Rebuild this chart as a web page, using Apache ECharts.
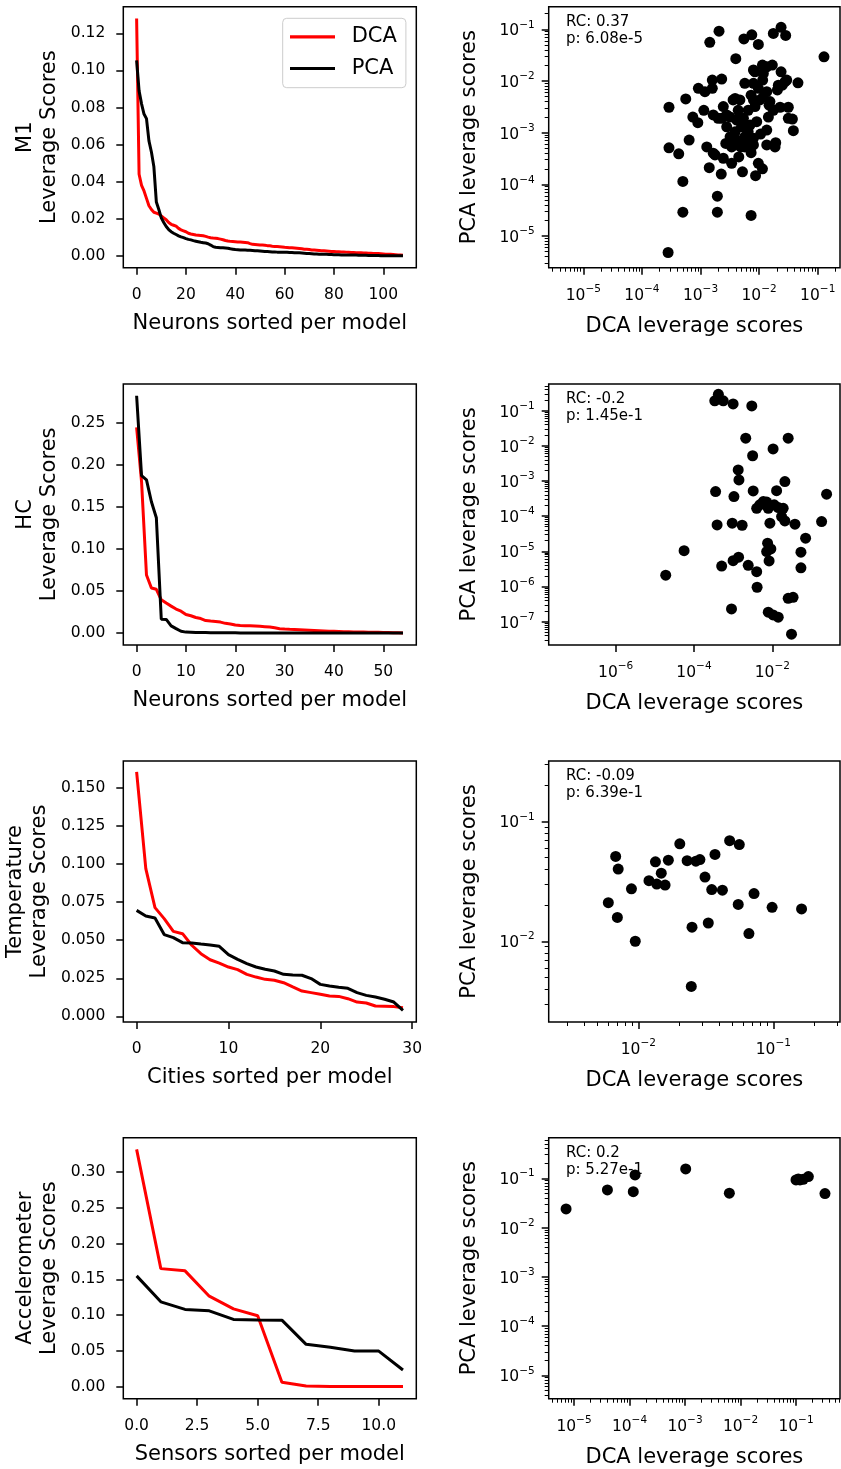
<!DOCTYPE html>
<html><head><meta charset="utf-8">
<script src="https://cdn.jsdelivr.net/npm/echarts@6/dist/echarts.min.js"></script>
<style>html,body{margin:0;padding:0;background:#fff}#c{width:841px;height:1469px}</style>
</head><body><div id="c"></div>
<script>
// ---------------- DATA ----------------
const m1Dca = [0.128,0.044,0.038,0.035,0.031,0.027,0.025,0.0235,0.023,0.0225,
 0.0215,0.0205,0.0195,0.018,0.017,0.0165,0.016,0.0148,0.014,0.0135,
 0.013,0.0122,0.0118,0.0115,0.0112,0.0111,0.011,0.0108,0.0105,0.0101,
 0.0098,0.0096,0.0095,0.0093,0.009,0.0087,0.0083,0.008,0.0078,0.0077,
 0.0076,0.0075,0.0074,0.0073,0.0072,0.0071,0.0066,0.0062,0.0061,0.006,
 0.0059,0.0058,0.0057,0.0055,0.0054,0.0052,0.0051,0.005,0.0049,0.0048,
 0.0046,0.0045,0.0044,0.0043,0.0042,0.0041,0.004,0.0038,0.0036,0.0035,
 0.0034,0.0032,0.0031,0.003,0.0029,0.0028,0.0027,0.0026,0.0025,0.0024,
 0.0023,0.0022,0.0022,0.0021,0.0021,0.002,0.0019,0.0018,0.0018,0.0017,
 0.0016,0.0016,0.0015,0.0015,0.0014,0.0014,0.0013,0.0012,0.0012,0.0011,
 0.001,0.0009,0.0008,0.0008,0.0007,0.0006,0.0005,0.0004,0.0003];
const m1Pca = [0.1055,0.089,0.082,0.0765,0.074,0.062,0.056,0.048,0.029,0.025,
 0.0205,0.018,0.0158,0.0142,0.013,0.0122,0.0115,0.0108,0.0102,0.0098,
 0.0093,0.0089,0.0086,0.0082,0.0079,0.0076,0.0073,0.0071,0.0069,0.0065,
 0.0058,0.005,0.0046,0.0045,0.0044,0.0043,0.0042,0.0041,0.0038,0.0036,
 0.0034,0.0033,0.0032,0.0031,0.0031,0.003,0.003,0.0029,0.0028,0.0027,
 0.0026,0.0025,0.0024,0.0023,0.0022,0.0021,0.0021,0.002,0.002,0.0019,
 0.0019,0.0019,0.0018,0.0018,0.0017,0.0017,0.0016,0.0015,0.0014,0.0013,
 0.0012,0.0011,0.001,0.001,0.0009,0.0009,0.0008,0.0008,0.0007,0.0007,
 0.0006,0.0006,0.0006,0.0005,0.0005,0.0005,0.0004,0.0004,0.0004,0.0004,
 0.0003,0.0003,0.0003,0.0003,0.0002,0.0002,0.0002,0.0002,0.0002,0.0001,
 0.0001,0.0001,0.0001,0.0001,0.00005,0.00005,0.00003,0.00002,0.00001];
const m1ScatterDca = [2.07e-3,1.44e-3,5.5e-3,7.5e-3,9.7e-3,1.75e-2,2.37e-2,2.84e-2,1.28e-1,4.0e-3,
 9.2e-4,1.59e-3,2.3e-3,1.59e-3,5.6e-4,2.9e-4,1.14e-3,7.4e-4,9.0e-4,2.9e-4,
 4.25e-4,6.4e-4,1.28e-3,5.0e-4,5.0e-4,2.8e-4,1.94e-3,1.94e-3,7.3e-3,1.41e-3,
 2.26e-3,1.77e-3,2.45e-3,5.2e-3,8.7e-3,9.7e-3,1.14e-2,4.5e-3,7.3e-3,1.06e-2,
 1.35e-2,1.92e-2,3.15e-2,3.7e-2,3.84e-2,4.6e-2,2.28e-2,3.15e-2,1.44e-2,2.37e-2,
 1.68e-2,1.14e-2,8.0e-3,1.18e-2,2.05e-2,2.77e-2,2.13e-2,5.7e-3,9.7e-3,7.3e-3,
 1.18e-2,1.48e-2,3.6e-3,4.7e-3,2.45e-3,1.65e-3,2.3e-3,3.2e-3,4.4e-3,6.5e-3,
 8.5e-3,2.8e-3,3.9e-3,4.15e-3,5.7e-3,7.0e-3,5.0e-3,3.2e-3,3.4e-3,2.7e-3,
 8.0e-3,4.85e-3,9.1e-3,1.35e-2,8.0e-3,1.03e-2,5.4e-3,1.53e-2,2.49e-2,2.96e-2,
 1.15e-2,6.5e-3,4.15e-3,2.0e-3,8.0e-3,5.7e-3,1.75e-2,3.4e-3,4.6e-3,1.65e-3,
 3.9e-3,1.35e-2,8.5e-3,1.35e-2,2.8e-3,8.0e-3,1.87e-2,1.19e-3,5.7e-3];
const m1ScatterPca = [9.2e-2,5.6e-2,6.5e-2,7.8e-2,5.1e-2,8.3e-2,1.09e-1,7.6e-2,2.94e-2,2.7e-2,
 7.2e-3,1.04e-2,1.09e-2,7.2e-3,4.5e-3,3.1e-3,2.7e-3,2.0e-3,1.56e-3,5.1e-4,
 3.9e-4,7.2e-4,5.3e-4,1.14e-4,2.9e-5,4.8e-6,5.9e-5,2.9e-5,2.5e-5,2.1e-4,
 1.58e-4,3.7e-4,3.2e-4,1.75e-4,1.47e-4,2.55e-4,2.0e-4,3.4e-4,4.1e-4,9.4e-4,
 5.8e-4,6.4e-4,1.89e-3,1.83e-3,1.09e-3,9.2e-3,3.1e-3,3.1e-3,2.0e-3,1.5e-2,
 2.03e-2,2.03e-2,1.63e-2,1.4e-2,6.7e-3,9.7e-3,8.3e-3,9.0e-3,7.2e-3,5.3e-3,
 4.9e-3,3.4e-3,4.3e-3,4.3e-3,3.2e-3,2.2e-3,1.89e-3,2.0e-3,2.7e-3,2.7e-3,
 3.2e-3,1.3e-3,1.04e-3,7.2e-4,8.3e-4,1.4e-3,1.3e-3,8.3e-4,5.3e-4,6.2e-4,
 7.8e-4,5.3e-4,1.63e-3,1.12e-3,4.3e-3,4.3e-3,1.89e-3,4.0e-3,8.3e-3,1.04e-2,
 1.04e-2,1.04e-3,1.75e-3,1.89e-3,5.8e-4,5.3e-4,2.7e-3,2.55e-4,5.8e-4,4.0e-4,
 4.6e-3,6.2e-3,1.5e-2,1.88e-2,2.2e-3,9.0e-3,5.3e-4,6.2e-3,6.2e-4];

const hcDca = [0.2445,0.18,0.069,0.0535,0.052,0.0395,0.0356,0.032,0.0285,0.026,
 0.022,0.0205,0.0185,0.0172,0.0148,0.0142,0.0138,0.013,0.0115,0.0108,
 0.0095,0.009,0.0088,0.0086,0.0083,0.008,0.0076,0.0072,0.0062,0.0052,
 0.0047,0.0044,0.0042,0.004,0.0037,0.0034,0.0031,0.0028,0.0025,0.0022,
 0.002,0.0018,0.0016,0.0015,0.0013,0.0012,0.0011,0.001,0.0009,0.0008,
 0.0006,0.0005,0.0003,0.0002,0.0001];
const hcPca = [0.282,0.187,0.182,0.156,0.137,0.0165,0.0162,0.0085,0.0052,0.0021,
 0.0011,0.00096,0.00053,0.00052,0.0005,0.00042,0.00036,0.00026,0.00025,0.00021,
 0.00021,0.000175,0.000167,0.000167,0.000167,0.000097,0.000073,0.00007,0.000063,0.000063,
 0.000059,0.000056,0.000055,0.0000235,0.000017,0.0000117,0.0000104,0.0000098,0.0000094,0.0000068,
 0.0000054,0.0000053,0.000004,0.0000038,0.0000034,0.0000026,0.0000021,0.00000095,0.00000049,0.00000046,
 0.00000023,0.00000019,0.00000016,0.00000013,0.00000004];
const hcScatterDca = [4.2e-4,3.4e-4,5.6e-4,1.0e-3,3.0e-3,2.1e-3,2.55e-2,1.05e-2,3.15e-3,1.35e-3,
 1.41e-3,2.1e-2,3.57e-4,1.05e-3,3.26e-3,1.29e-2,2.44e-1,7.2e-3,4.8e-3,4.0e-3,
 7.9e-3,1.42e-2,1.9e-2,1.73e-2,2.1e-2,3.9e-4,9.5e-4,1.7e-3,8.7e-3,3.8e-2,
 1.82e-1,7.1e-2,7.6e-3,7.2e-3,9.2e-3,5.6e-5,5.4e-2,1.0e-3,1.38e-3,8.3e-3,
 5.1e-4,2.43e-3,4.0e-3,5.4e-2,1.9e-5,4.1e-3,2.55e-2,3.4e-2,9.1e-4,7.9e-3,
 1.05e-2,1.42e-2,3.1e-2,5.9e-3,1.12e-2];
const hcScatterPca = [2.9e-1,1.9e-1,1.9e-1,1.55e-1,1.36e-1,1.64e-2,1.64e-2,8.1e-3,5.2e-3,2.06e-3,
 1.07e-3,9.6e-4,5.0e-4,3.6e-4,5.2e-4,5.3e-4,4.2e-4,2.5e-4,2.1e-4,1.67e-4,
 1.67e-4,1.75e-4,1.67e-4,9.7e-5,7.3e-5,5.6e-5,6.3e-5,5.5e-5,6.3e-5,5.9e-5,
 7.0e-5,2.35e-5,1.7e-5,9.8e-6,1.17e-5,1.04e-5,9.4e-6,5.4e-6,6.8e-6,5.3e-6,
 3.8e-6,4.0e-6,2.64e-6,3.4e-6,2.1e-6,9.5e-7,4.6e-7,4.9e-7,2.3e-7,1.85e-7,
 1.55e-7,1.34e-7,4.4e-8,2.6e-4,2.1e-4];

const tempDca = [0.1605,0.097,0.0714,0.0642,0.0558,0.0543,0.0467,0.0412,0.0372,0.035,
 0.0324,0.0307,0.0276,0.0258,0.0243,0.0237,0.0221,0.0193,0.0166,0.0156,
 0.0145,0.0134,0.0131,0.0116,0.0094,0.0088,0.0068,0.0066,0.0064,0.0057];
const tempPca = [0.0696,0.0659,0.0646,0.0537,0.0517,0.0484,0.0482,0.0475,0.0469,0.046,
 0.0405,0.0374,0.0346,0.0324,0.0309,0.0298,0.0276,0.0272,0.027,0.0248,
 0.021,0.0199,0.0191,0.0184,0.0156,0.0138,0.0127,0.0112,0.0094,0.004];
const tempScatterDca = [6.8e-3,7.1e-3,6.0e-3,7.0e-3,8.9e-3,9.5e-3,1.34e-2,1.67e-2,1.2e-2,1.37e-2,
 1.48e-2,1.58e-2,2.03e-2,2.3e-2,2.67e-2,2.86e-2,3.12e-2,3.5e-2,3.7e-2,4.2e-2,
 2.5e-2,3.3e-2,2.47e-2,4.75e-2,5.6e-2,5.5e-2,7.2e-2,6.6e-2,9.8e-2,1.62e-1];
const tempScatterPca = [5.1e-2,4.0e-2,2.1e-2,1.58e-2,2.74e-2,1.0e-2,4.6e-2,4.75e-2,3.2e-2,3.0e-2,
 3.7e-2,2.94e-2,6.5e-2,4.7e-2,4.66e-2,4.8e-2,3.43e-2,2.7e-2,5.3e-2,2.67e-2,
 1.31e-2,1.42e-2,4.2e-3,6.9e-2,6.4e-2,2.03e-2,2.5e-2,1.16e-2,1.92e-2,1.86e-2];

const accDca = [0.3317,0.165,0.1619,0.1265,0.1088,0.0991,0.0061,0.001,0.0004,0.0002,0.0001,0.0001];
const accPca = [0.1549,0.1186,0.108,0.106,0.094,0.0931,0.093,0.0592,0.055,0.0498,0.0497,0.0233];
const accScatterDca = [7.2e-6,4.0e-5,1.17e-4,1.26e-4,1.03e-3,6.3e-3,1.0e-1,1.18e-1,1.35e-1,1.67e-1,3.33e-1,1.10e-1];
const accScatterPca = [2.39e-2,5.8e-2,5.35e-2,1.17e-1,1.55e-1,4.97e-2,9.25e-2,9.25e-2,9.55e-2,1.08e-1,4.9e-2,9.7e-2];

// tick labels
const m1XTicks = [0,20,40,60,80,100];
const m1YTicks = [0,0.02,0.04,0.06,0.08,0.10,0.12];
const hcXTicks = [0,10,20,30,40,50];
const hcYTicks = [0,0.05,0.10,0.15,0.20,0.25];
const tempXTicks = [0,10,20,30];
const tempYTicks = [0,0.025,0.05,0.075,0.10,0.125,0.15];
const accXTicks = [0,2.5,5,7.5,10];
const accYTicks = [0,0.05,0.10,0.15,0.20,0.25,0.30];
const logTicks5 = [1e-5,1e-4,1e-3,1e-2,1e-1];
const hcLogXTicks = [1e-6,1e-4,1e-2];
const hcLogYTicks = [1e-7,1e-6,1e-5,1e-4,1e-3,1e-2,1e-1];
const tempLogTicks = [1e-2,1e-1];

const rowLabels = ['M1\nLeverage Scores','HC\nLeverage Scores','Temperature\nLeverage Scores','Accelerometer\nLeverage Scores'];
const xLabels = ['Neurons sorted per model','Neurons sorted per model','Cities sorted per model','Sensors sorted per model'];
const stats = ['RC: 0.37\np: 6.08e-5','RC: -0.2\np: 1.45e-1','RC: -0.09\np: 6.39e-1','RC: 0.2\np: 5.27e-1'];

// ---------------- LAYOUT ----------------
const FONT = 'DejaVu Sans';
const rowTop = [6.7, 383.9, 761, 1137.7];
const H = 261;
const LG = {left:123.3, width:293};
const RG = {left:548.7, width:291.3};
const RED = '#ff0000', BLACK = '#000000';

const option = {animation:false, backgroundColor:'#fff', grid:[], xAxis:[], yAxis:[], series:[], graphic:[]};

function addGrid(g, top){
  option.grid.push({left:g.left, top:top, width:g.width, height:H, show:true, borderColor:'#000', borderWidth:1.5,
    backgroundColor:'transparent', containLabel:false, outerBoundsMode:'none'});
  return option.grid.length - 1;
}
function linAxis(kind, gi, min, max, ticks, dec){
  return {type:'value', gridIndex:gi, min:min, max:max, position: kind==='x'?'bottom':'left',
    axisLine:{show:false, onZero:false}, splitLine:{show:false},
    axisTick:{show:true, length:7, lineStyle:{color:'#000', width:1.5}, customValues:ticks},
    axisLabel:{show:true, customValues:ticks, formatter:function(v){return (+v).toFixed(dec);},
      fontFamily:FONT, fontSize:15.5, color:'#000', margin: kind==='x'?19:18}};
}
function supFmt(v){
  const e = Math.round(Math.log10(v));
  return '{b|10}{s|' + (e<0?'\u2212':'') + Math.abs(e) + '}';
}
const RICH = {b:{fontFamily:FONT, fontSize:15.5, color:'#000', lineHeight:20, verticalAlign:'bottom'},
              s:{fontFamily:FONT, fontSize:10.5, color:'#000', lineHeight:12, verticalAlign:'top'}};
function logAxis(kind, gi, min, max, ticks){
  return {type:'log', logBase:10, gridIndex:gi, min:min, max:max, position: kind==='x'?'bottom':'left',
    axisLine:{show:false, onZero:false}, splitLine:{show:false}, minorTick:{show:false},
    axisTick:{show:true, length:7, lineStyle:{color:'#000', width:1.5}, customValues:ticks},
    axisLabel:{show:true, customValues:ticks, formatter:supFmt, rich:RICH, margin: kind==='x'?16:14}};
}
function minorVals(min, max){
  const out = [];
  for (let d = Math.floor(Math.log10(min)); d <= Math.ceil(Math.log10(max)); d++){
    for (let k = 2; k <= 9; k++){ const v = k*Math.pow(10,d); if (v>=min && v<=max) out.push(v); }
  }
  return out;
}
function minorAxis(kind, gi, min, max){
  return {type:'log', logBase:10, gridIndex:gi, min:min, max:max, position: kind==='x'?'bottom':'left',
    axisLine:{show:false, onZero:false}, splitLine:{show:false},
    axisTick:{show:true, length:4, lineStyle:{color:'#000', width:1}, customValues:minorVals(min,max)},
    axisLabel:{show:false}};
}

const leftPanels = [
  {dca:m1Dca, pca:m1Pca, x:[-5.4,113.4], y:[-0.0064,0.1344], xt:m1XTicks, yt:m1YTicks, xd:0, yd:2, lx:37.2},
  {dca:hcDca, pca:hcPca, x:[-2.7,56.7], y:[-0.0141,0.2961], xt:hcXTicks, yt:hcYTicks, xd:0, yd:2, lx:37.2},
  {dca:tempDca, pca:tempPca, x:[-1.45,30.45], y:[-0.0037,0.1677], xt:tempXTicks, yt:tempYTicks, xd:0, yd:3, lx:27.5},
  {dca:accDca, pca:accPca, x:[-0.55,11.55], y:[-0.0168,0.348], xt:accXTicks, yt:accYTicks, xd:1, yd:2, lx:38}
];
const rightPanels = [
  {xs:m1ScatterDca, ys:m1ScatterPca, x:[2.57e-6,0.24], y:[2.44e-6,0.2735], xt:logTicks5, yt:logTicks5, xMinor:true, yMinor:true},
  {xs:hcScatterDca, ys:hcScatterPca, x:[1.95e-8,0.537], y:[2.18e-8,0.574], xt:hcLogXTicks, yt:hcLogYTicks, xMinor:false, yMinor:true},
  {xs:tempScatterDca, ys:tempScatterPca, x:[2.17e-3,0.312], y:[2.12e-3,0.319], xt:tempLogTicks, yt:tempLogTicks, xMinor:true, yMinor:true},
  {xs:accScatterDca, ys:accScatterPca, x:[3.5e-6,0.621], y:[3.37e-6,0.665], xt:logTicks5, yt:logTicks5, xMinor:true, yMinor:true}
];

function textEl(x, y, text, size, opts){
  opts = opts || {};
  return {type:'text', x:x, y:y, rotation:opts.rot||0, z:10, silent:true,
    style:{text:text, fill:'#000', font: size+'px "'+FONT+'"', fontSize:size, fontFamily:FONT,
      align:opts.align||'center', textAlign:opts.align||'center',
      verticalAlign:opts.va||'middle', textVerticalAlign:opts.va||'middle', lineHeight:opts.lh||size}};
}

for (let r = 0; r < 4; r++){
  const top = rowTop[r];
  // left
  const p = leftPanels[r];
  const gl = addGrid(LG, top);
  option.xAxis.push(linAxis('x', gl, p.x[0], p.x[1], p.xt, p.xd));
  const xi = option.xAxis.length - 1;
  option.yAxis.push(linAxis('y', gl, p.y[0], p.y[1], p.yt, p.yd));
  const yi = option.yAxis.length - 1;
  const nmD = r===0 ? 'DCA' : 'DCA_' + r, nmP = r===0 ? 'PCA' : 'PCA_' + r;
  option.series.push({type:'line', name:nmD, xAxisIndex:xi, yAxisIndex:yi, data:p.dca.map((v,i)=>[i,v]),
    showSymbol:false, symbol:'none', color:RED, lineStyle:{color:RED, width:3}, z:2});
  option.series.push({type:'line', name:nmP, xAxisIndex:xi, yAxisIndex:yi, data:p.pca.map((v,i)=>[i,v]),
    showSymbol:false, symbol:'none', color:BLACK, lineStyle:{color:BLACK, width:3}, z:3});
  option.graphic.push(textEl(p.lx, top + H/2, rowLabels[r], 21, {rot:Math.PI/2, lh:24}));
  option.graphic.push(textEl(LG.left + LG.width/2, top + H + 56, xLabels[r], 21));

  // right
  const q = rightPanels[r];
  const gr = addGrid(RG, top);
  option.xAxis.push(logAxis('x', gr, q.x[0], q.x[1], q.xt));
  const rxi = option.xAxis.length - 1;
  option.yAxis.push(logAxis('y', gr, q.y[0], q.y[1], q.yt));
  const ryi = option.yAxis.length - 1;
  if (q.xMinor) option.xAxis.push(minorAxis('x', gr, q.x[0], q.x[1]));
  if (q.yMinor) option.yAxis.push(minorAxis('y', gr, q.y[0], q.y[1]));
  option.series.push({type:'scatter', name:'scatter_' + r, xAxisIndex:rxi, yAxisIndex:ryi,
    data:q.xs.map((x,i)=>[x, q.ys[i]]), symbol:'circle', symbolSize:11,
    itemStyle:{color:BLACK, opacity:1}, z:3});
  option.graphic.push(textEl(469.2, top + H/2, 'PCA leverage scores', 21, {rot:Math.PI/2}));
  option.graphic.push(textEl(RG.left + RG.width/2, top + H + 58.8, 'DCA leverage scores', 21));
  option.graphic.push(textEl(RG.left + 17.3, top + 6.3, stats[r], 15, {align:'left', va:'top', lh:17.5}));
}

option.legend = {data:[{name:'DCA', icon:'rect'},{name:'PCA', icon:'rect'}], orient:'vertical',
  left:282.7, top:18.3, itemWidth:45, itemHeight:3.2, itemGap:9.7, padding:[7.5,9,8.2,7.3],
  borderColor:'#cccccc', borderWidth:1, borderRadius:4, backgroundColor:'rgba(255,255,255,0.8)',
  selectedMode:false, textStyle:{fontFamily:FONT, fontSize:21, color:'#000', lineHeight:22, padding:[0,0,0,11.7]}};

const chart = echarts.init(document.getElementById('c'), null, {renderer:'canvas'});
chart.setOption(option);
</script>
</body></html>
